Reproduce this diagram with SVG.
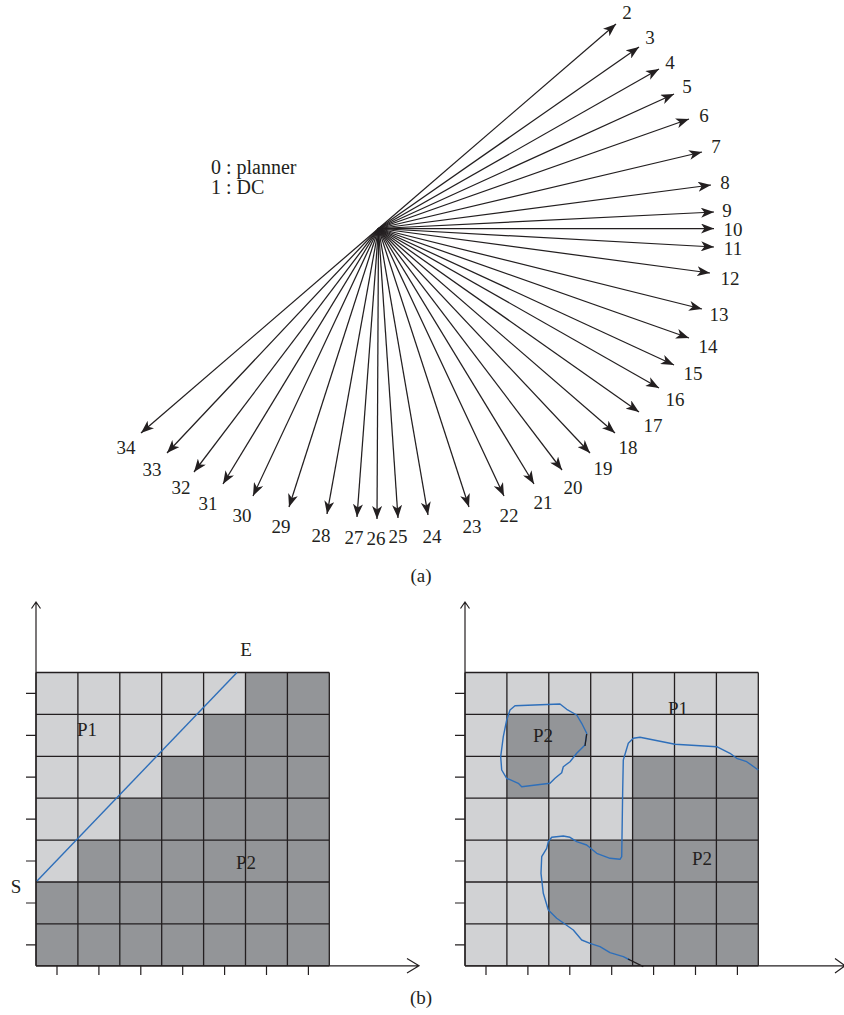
<svg xmlns="http://www.w3.org/2000/svg" width="844" height="1015" viewBox="0 0 844 1015">
<style>
text{font-family:"Liberation Serif","Times New Roman",serif;font-size:19px;fill:#231f20}
.lbl{text-anchor:middle}
.leg{font-size:20px}
.fan line{stroke:#231f20;stroke-width:1.25;marker-end:url(#ah)}
.g{stroke:#231f20;stroke-width:1.3;fill:none}
.ax{stroke:#231f20;stroke-width:1.2;fill:none}
.blue{stroke:#2e6fba;stroke-width:1.4;fill:none;stroke-linejoin:round}
.lt{fill:#d1d2d4}
.dk{fill:#939598}
</style>
<defs>
<marker id="ah" markerUnits="userSpaceOnUse" markerWidth="14" markerHeight="10" refX="13" refY="5" orient="auto">
<path d="M0,0 L13,5 L0,10 L3.5,5 z" fill="#231f20"/>
</marker>
</defs>
<rect width="844" height="1015" fill="#fff"/>
<g id="legend">
<text class="leg" x="211" y="174">0 : planner</text>
<text class="leg" x="211" y="194">1 : DC</text>
</g>
<g id="connectors" class="fan">
<line x1="378.5" y1="228.5" x2="616" y2="24"/>
<line x1="378.5" y1="228.5" x2="639" y2="47"/>
<line x1="378.5" y1="228.5" x2="659" y2="69"/>
<line x1="378.5" y1="228.5" x2="674" y2="94"/>
<line x1="378.5" y1="228.5" x2="689" y2="119"/>
<line x1="378.5" y1="228.5" x2="702" y2="152"/>
<line x1="378.5" y1="228.5" x2="711" y2="185"/>
<line x1="378.5" y1="228.5" x2="714" y2="212"/>
<line x1="378.5" y1="228.5" x2="714" y2="228.5"/>
<line x1="378.5" y1="228.5" x2="714" y2="247"/>
<line x1="378.5" y1="228.5" x2="710" y2="273"/>
<line x1="378.5" y1="228.5" x2="702" y2="309"/>
<line x1="378.5" y1="228.5" x2="689" y2="338"/>
<line x1="378.5" y1="228.5" x2="674" y2="365"/>
<line x1="378.5" y1="228.5" x2="659" y2="388"/>
<line x1="378.5" y1="228.5" x2="639" y2="412"/>
<line x1="378.5" y1="228.5" x2="615" y2="433"/>
<line x1="378.5" y1="228.5" x2="590" y2="453"/>
<line x1="378.5" y1="228.5" x2="562" y2="470"/>
<line x1="378.5" y1="228.5" x2="534" y2="484"/>
<line x1="378.5" y1="228.5" x2="504" y2="496"/>
<line x1="378.5" y1="228.5" x2="469" y2="507"/>
<line x1="378.5" y1="228.5" x2="428" y2="515"/>
<line x1="378.5" y1="228.5" x2="398" y2="518"/>
<line x1="378.5" y1="228.5" x2="377" y2="519"/>
<line x1="378.5" y1="228.5" x2="357" y2="517"/>
<line x1="378.5" y1="228.5" x2="327" y2="514"/>
<line x1="378.5" y1="228.5" x2="289" y2="507"/>
<line x1="378.5" y1="228.5" x2="253" y2="496"/>
<line x1="378.5" y1="228.5" x2="223" y2="484"/>
<line x1="378.5" y1="228.5" x2="194" y2="472"/>
<line x1="378.5" y1="228.5" x2="167" y2="453"/>
<line x1="378.5" y1="228.5" x2="141" y2="433"/>
</g>
<g id="fan-labels" class="lbl">
<text x="627" y="19">2</text>
<text x="650" y="44">3</text>
<text x="670" y="69">4</text>
<text x="687" y="93">5</text>
<text x="704" y="122">6</text>
<text x="716" y="153">7</text>
<text x="725" y="189">8</text>
<text x="727" y="217">9</text>
<text x="733" y="236">10</text>
<text x="733" y="255">11</text>
<text x="730" y="285">12</text>
<text x="719" y="321">13</text>
<text x="708" y="353">14</text>
<text x="693" y="380">15</text>
<text x="675" y="406">16</text>
<text x="653" y="432">17</text>
<text x="628" y="454">18</text>
<text x="603" y="475">19</text>
<text x="573" y="494">20</text>
<text x="543" y="509">21</text>
<text x="509" y="522">22</text>
<text x="472" y="533">23</text>
<text x="432" y="543">24</text>
<text x="398" y="543">25</text>
<text x="376" y="545">26</text>
<text x="354" y="544">27</text>
<text x="321" y="542">28</text>
<text x="281" y="533">29</text>
<text x="242" y="522">30</text>
<text x="208" y="510">31</text>
<text x="181" y="494">32</text>
<text x="152" y="476">33</text>
<text x="126" y="454">34</text>
<text x="421" y="582">(a)</text>
<text x="421" y="1004">(b)</text>
</g>
<g id="grid-left">
<rect class="dk" x="36" y="672.5" width="293.3" height="293.3"/>
<rect class="lt" x="36" y="672.5" width="209.5" height="41.9"/>
<rect class="lt" x="36" y="714.4" width="167.6" height="41.9"/>
<rect class="lt" x="36" y="756.3" width="125.7" height="41.9"/>
<rect class="lt" x="36" y="798.2" width="83.8" height="41.9"/>
<rect class="lt" x="36" y="840.1" width="41.9" height="41.9"/>
<path class="g" d="M36,672.5H329.3M36,714.4H329.3M36,756.3H329.3M36,798.2H329.3M36,840.1H329.3M36,882H329.3M36,923.9H329.3M36,965.8H329.3M36,672.5V965.8M77.9,672.5V965.8M119.8,672.5V965.8M161.7,672.5V965.8M203.6,672.5V965.8M245.5,672.5V965.8M287.4,672.5V965.8M329.3,672.5V965.8"/>
<path class="ax" d="M36,965.8V602M31.5,608.5L36,602L40.5,608.5M36,965.8H419M407,958.5L419,965.8L407,973"/>
<path class="ax" d="M26,693.4H36M26,735.3H36M26,777.2H36M26,819.1H36M26,861H36M26,903H36M26,944.8H36M57,965.8V975M98.9,965.8V975M140.8,965.8V975M182.7,965.8V975M224.6,965.8V975M266.5,965.8V975M308.4,965.8V975"/>
<path class="blue" d="M37,881L237,672.5"/>
<text x="246" y="656" class="lbl">E</text>
<text x="16" y="893" class="lbl">S</text>
<text x="87" y="736" class="lbl">P1</text>
<text x="246" y="869" class="lbl">P2</text>
</g>
<g id="grid-right">
<rect class="lt" x="465" y="672.5" width="293.3" height="293.3"/>
<rect class="dk" x="506.9" y="714.4" width="83.8" height="41.9"/>
<rect class="dk" x="506.9" y="756.3" width="41.9" height="41.9"/>
<rect class="dk" x="632.6" y="756.3" width="125.7" height="83.8"/>
<rect class="dk" x="548.8" y="840.1" width="209.5" height="83.8"/>
<rect class="dk" x="590.7" y="923.9" width="167.6" height="41.9"/>
<path class="g" d="M465,672.5H758.3M465,714.4H758.3M465,756.3H758.3M465,798.2H758.3M465,840.1H758.3M465,882H758.3M465,923.9H758.3M465,965.8H758.3M465,672.5V965.8M506.9,672.5V965.8M548.8,672.5V965.8M590.7,672.5V965.8M632.6,672.5V965.8M674.5,672.5V965.8M716.4,672.5V965.8M758.3,672.5V965.8"/>
<path class="ax" d="M465,965.8V602M460.5,608.5L465,602L469.5,608.5M465,965.8H846M835,958.5L845,965.8L835,973"/>
<path class="ax" d="M455,693.4H465M455,735.3H465M455,777.2H465M455,819.1H465M455,861H465M455,903H465M455,944.8H465M486,965.8V975M527.9,965.8V975M569.8,965.8V975M611.7,965.8V975M653.6,965.8V975M695.5,965.8V975M737.4,965.8V975"/>
<path class="blue" d="M515,705.7L560,704L566.7,709.3L576.7,715L581.7,723.3L586.7,733.3L585,745L576.7,753.3L570,761.7L563.3,766.7L561.7,772.7L555,778.3L550,783.3L521.7,786.7L518.3,783.3L506.7,778.3L501.7,770L500.7,756.7L503.3,736.7L506.7,720L510,710Z"/>
<path d="M586.7,734L585,746" stroke="#231f20" stroke-width="1.3"/>
<path class="blue" d="M758.3,770L746.7,761.7L736.7,758.3L730,753.3L716.7,746.7L675,744.3L640,737.3L633.3,738.3L628.3,743.3L623.3,760L622.7,790L621.7,856.7L620,859.3L610,858.3L596.7,853.3L586.7,845L576.7,841.7L570,837.3L563.3,836L551.7,837.3L548.3,841.7L546.7,848.3L541.7,856.7L541,873.3L543.3,893.3L548.3,910L556.7,918.3L573.3,930L581.7,940L590,943.3L600,946.7L610,952.7L623.3,956.7L630,960"/>
<path d="M628,959L643.3,966.7" stroke="#231f20" stroke-width="1.3"/>
<text x="678" y="715" class="lbl">P1</text>
<text x="543" y="742" class="lbl">P2</text>
<text x="702" y="865" class="lbl">P2</text>
</g>
</svg>
